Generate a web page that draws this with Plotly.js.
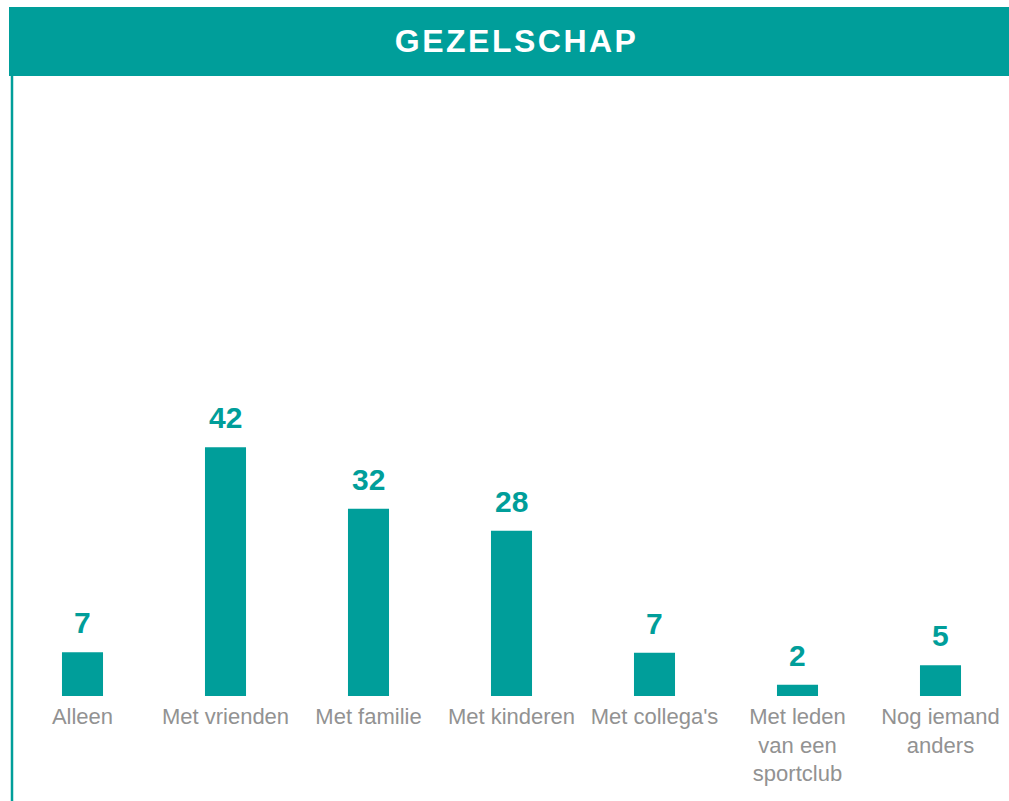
<!DOCTYPE html>
<html>
<head>
<meta charset="utf-8">
<script src="https://cdn.plot.ly/plotly-3.0.1.min.js"></script>
<style>
html,body{margin:0;padding:0;background:#fff;overflow:hidden;}
#chart{width:1009px;height:801px;}
#chart .gtitle{letter-spacing:2.5px;}
</style>
</head>
<body>
<div id="chart"></div>
<script>
const categories = ['Alleen', 'Met vrienden', 'Met familie', 'Met kinderen', "Met collega's", 'Met leden<br>van een<br>sportclub', 'Nog iemand<br>anders'];
const values = [7.4, 42, 31.6, 27.9, 7.3, 1.9, 5.2];
const valueLabels = ['7', '42', '32', '28', '7', '2', '5'];
const chartTitle = 'GEZELSCHAP';

const teal = '#009E9A';

const trace = {
  type: 'bar',
  x: categories,
  y: values,
  width: 0.287,
  marker: {color: teal},
  hoverinfo: 'none'
};

const annotations = categories.map((c, i) => ({
  x: c, y: values[i], xref: 'x', yref: 'y',
  text: valueLabels[i],
  showarrow: false,
  yanchor: 'bottom',
  yshift: 11,
  font: {family: 'Liberation Sans, Arial, sans-serif', size: 30, color: teal, weight: 'bold'}
}));

const layout = {
  width: 1009, height: 801,
  margin: {l: 11, r: 0, t: 80, b: 105, pad: 0},
  paper_bgcolor: '#ffffff', plot_bgcolor: '#ffffff',
  showlegend: false,
  title: {
    text: '<b>' + chartTitle + '</b>',
    x: 0.512, xref: 'container', xanchor: 'center',
    y: 1 - 41/801, yref: 'container', yanchor: 'middle',
    font: {family: 'Liberation Sans, Arial, sans-serif', size: 32, color: '#ffffff'}
  },
  xaxis: {
    type: 'category',
    range: [-0.5, 6.479],
    showgrid: false, zeroline: false, showline: false,
    ticks: '', ticklen: 0,
    ticklabelstandoff: 5,
    tickfont: {family: 'Liberation Sans, Arial, sans-serif', size: 22, color: '#929292'},
    tickangle: 0,
    fixedrange: true
  },
  yaxis: {
    range: [0, 104],
    showgrid: false, zeroline: false, showline: false,
    showticklabels: false, ticks: '',
    fixedrange: true
  },
  shapes: [
    {type: 'rect', xref: 'paper', yref: 'paper', x0: -2/998, x1: 1.01, y0: (696-76)/616, y1: (696-7)/616,
     fillcolor: teal, line: {width: 0}, layer: 'below'},
    {type: 'line', xref: 'paper', yref: 'paper', x0: 1/998, x1: 1/998, y0: (696-76)/616, y1: (696-805)/616,
     line: {color: teal, width: 2.5}}
  ],
  annotations: annotations
};

Plotly.newPlot('chart', [trace], layout, {displayModeBar: false, staticPlot: true});
</script>
</body>
</html>
